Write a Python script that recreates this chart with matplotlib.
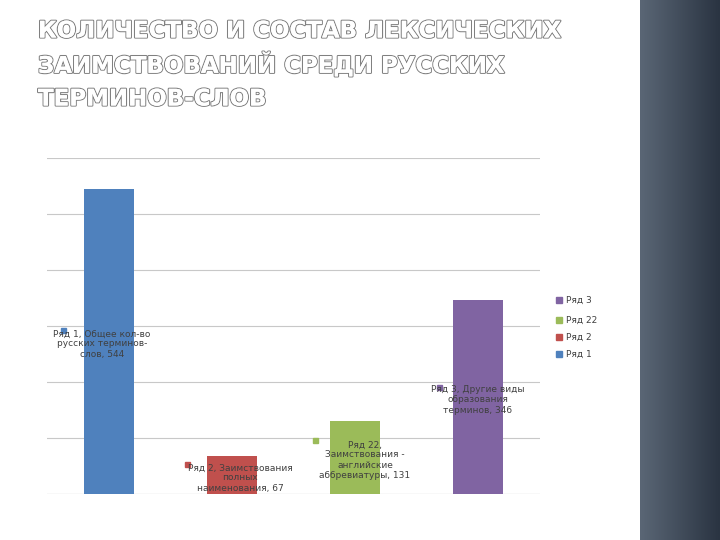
import matplotlib
matplotlib.use("Agg")
import matplotlib.pyplot as plt
import matplotlib.patheffects as pe
import numpy as np

series = ["Ряд 1", "Ряд 2", "Ряд 22", "Ряд 3"]
values = [544, 67, 131, 346]
labels = [
    "Ряд 1, Общее кол-во\nрусских терминов-\nслов, 544",
    "Ряд 2, Заимствования\nполных\nнаименования, 67",
    "Ряд 22,\nЗаимствования -\nанглийские\nаббревиатуры, 131",
    "Ряд 3, Другие виды\nобразования\nтерминов, 346",
]
colors = ["#4F81BD", "#C0504D", "#9BBB59", "#8064A2"]
title_lines = ["КОЛИЧЕСТВО И СОСТАВ ЛЕКСИЧЕСКИХ",
               "ЗАИМСТВОВАНИЙ СРЕДИ РУССКИХ",
               "ТЕРМИНОВ-СЛОВ"]

W, H = 720, 540
fig = plt.figure(figsize=(7.2, 5.4), dpi=100)

def px(x, y):
    return x / W, 1 - y / H

# dark strip on the right
strip = fig.add_axes([640 / W, 0, 80 / W, 1])
grad = np.linspace(0, 1, 100).reshape(1, -1)
strip.imshow(grad, aspect="auto", cmap=matplotlib.colors.LinearSegmentedColormap.from_list(
    "s", ["#5a6675", "#2a3442"]), extent=[0, 1, 0, 1])
strip.axis("off")

for i, line in enumerate(title_lines):
    x, y = px(38, 31 + i * 34)
    fig.text(x, y, line, fontsize=16.5, fontweight="bold", color="white",
             va="center", ha="left",
             path_effects=[pe.withStroke(linewidth=1.6, foreground="#808080"),
                           pe.Normal()])

ax = fig.add_axes([47 / W, 46 / H, 493 / W, 336 / H])
pos = [0.5, 1.5, 2.5, 3.5]
ax.bar(pos, values, width=0.405, color=colors, zorder=3)
ax.set_xlim(0, 4)
ax.set_ylim(0, 600)
ax.set_yticks(range(0, 601, 100))
ax.yaxis.grid(True, color="#c8c8c8", lw=0.8)
ax.tick_params(left=False, bottom=False, labelleft=False, labelbottom=False)
for s in ax.spines.values():
    s.set_visible(False)
ax.axhline(0, color="#c8c8c8", lw=0.8)

label_pos = [(102, 344), (240, 478), (365, 460), (478, 400)]
marker_pos = [(64, 330), (188, 464), (316, 440), (440, 387)]
for lab, (lx, ly), (mx, my), c in zip(labels, label_pos, marker_pos, colors):
    fig.text(*px(lx, ly), lab, fontsize=6.5, color="#404040",
             ha="center", va="center", linespacing=1.15)
    fig.patches.append(plt.Rectangle(px(mx - 3, my + 3), 5 / W, 5 / H,
                                     transform=fig.transFigure, color=c, figure=fig))

legend_items = [("Ряд 3", colors[3], 300), ("Ряд 22", colors[2], 320),
                ("Ряд 2", colors[1], 337), ("Ряд 1", colors[0], 354)]
for name, c, y in legend_items:
    fig.patches.append(plt.Rectangle(px(556, y + 3), 6 / W, 6 / H,
                                     transform=fig.transFigure, color=c, figure=fig))
    fig.text(*px(566, y), name, fontsize=6.5, color="#404040", va="center")

fig.savefig("out.png", dpi=100)
